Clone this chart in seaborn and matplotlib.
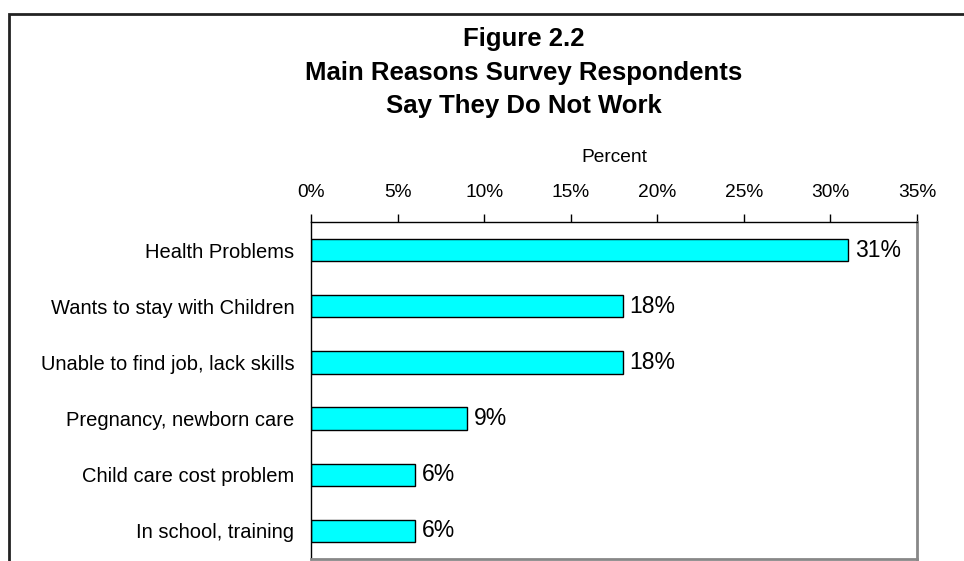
import matplotlib
matplotlib.use("Agg")
import matplotlib.pyplot as plt
import seaborn as sns
import pandas as pd
from matplotlib.patches import Rectangle

categories = ["Health Problems", "Wants to stay with Children", "Unable to find job, lack skills",
              "Pregnancy, newborn care", "Child care cost problem", "In school, training"]
values = [31, 18, 18, 9, 6, 6]
value_labels = ["31%", "18%", "18%", "9%", "6%", "6%"]
x_ticks = [0, 5, 10, 15, 20, 25, 30, 35]
x_tick_labels = ["0%", "5%", "10%", "15%", "20%", "25%", "30%", "35%"]
title_lines = ["Figure 2.2", "Main Reasons Survey Respondents", "Say They Do Not Work"]

sns.set_style("white")
plt.rcParams["font.family"] = ["Liberation Sans", "DejaVu Sans"]
plt.rcParams["text.color"] = "black"
plt.rcParams["axes.labelcolor"] = "black"
plt.rcParams["xtick.color"] = "black"
plt.rcParams["ytick.color"] = "black"

df = pd.DataFrame({"reason": categories, "pct": values})

fig = plt.figure(figsize=(9.64, 5.61), dpi=100)
W, H = 964, 561
ax = fig.add_axes([311 / W, 1 - 559 / H, (917 - 311) / W, (559 - 222) / H])

sns.barplot(data=df, y="reason", x="pct", orient="h", color="#00FFFF",
            edgecolor="black", linewidth=1.0, width=0.4, saturation=1, ax=ax)

ax.set_xlim(0, 35)
ax.set_ylim(len(categories) - 0.5, -0.5)
ax.xaxis.tick_top()
ax.xaxis.set_label_position("top")
ax.set_xticks(x_ticks)
ax.set_xticklabels(x_tick_labels, fontsize=13.8)
ax.set_xlabel("Percent", fontsize=13.8, labelpad=16)
ax.set_ylabel("")
ax.tick_params(axis="x", direction="out", length=6, width=1, color="black", pad=9)

ax.set_yticks(range(len(categories)))
ax.set_yticklabels(categories, fontsize=14.5)
ax.set_yticks([i - 0.5 for i in range(len(categories) + 1)], minor=True)
ax.tick_params(axis="y", which="major", length=0, pad=12)
ax.tick_params(axis="y", which="minor", direction="out", length=7, width=1, color="#333333")

for side in ["top", "left"]:
    ax.spines[side].set_color("black")
    ax.spines[side].set_linewidth(1.0)
for side in ["right", "bottom"]:
    ax.spines[side].set_color("#888888")
    ax.spines[side].set_linewidth(2.0)
    ax.spines[side].set_visible(True)

for i, (v, lab) in enumerate(zip(values, value_labels)):
    ax.annotate(lab, xy=(v, i), xytext=(5, 0), textcoords="offset points",
                va="center", ha="left", fontsize=16.5, color="black")

baselines = [46, 80, 113]
for t, y in zip(title_lines, baselines):
    fig.text(524 / W, 1 - y / H, t, ha="center", va="baseline", fontsize=18.5,
             fontweight="bold", color="black")

fig.patches.append(Rectangle((9 / W, -0.1), 1.2, 1 - 14 / H + 0.1, transform=fig.transFigure,
                             fill=False, edgecolor="#222222", linewidth=2, clip_on=False))

fig.savefig("out.png", dpi=100)
